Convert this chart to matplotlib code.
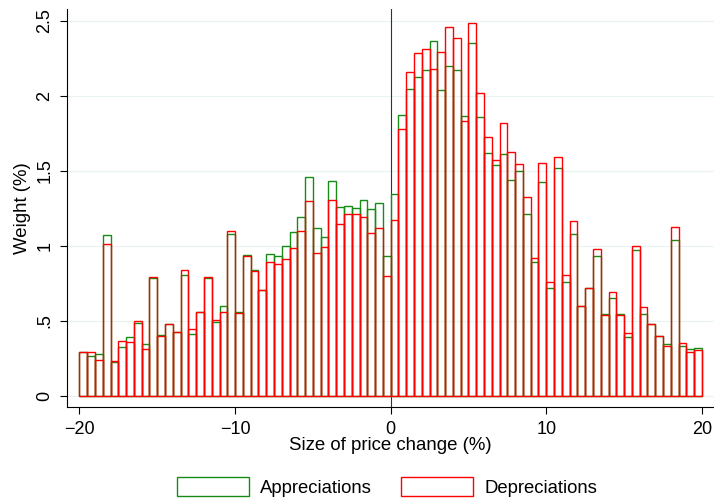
import numpy as np
import matplotlib
matplotlib.use("Agg")
import matplotlib.pyplot as plt
from matplotlib.patches import Patch

plt.rcParams['font.family'] = ['Liberation Sans', 'DejaVu Sans']

# histogram bins: 0.5 pp wide, from -20 to 20
bin_width = 0.5
bin_left = np.arange(-20, 20, bin_width)

# weight (%) per bin
appreciations = [
    0.29, 0.265, 0.276, 1.071, 0.227, 0.324, 0.391, 0.487, 0.347, 0.782,
    0.407, 0.476, 0.424, 0.807, 0.413, 0.558, 0.787, 0.491, 0.60, 1.08,
    0.558, 0.94, 0.836, 0.706, 0.947, 0.933, 0.998, 1.089, 1.191, 1.458,
    1.118, 1.056, 1.433, 1.256, 1.267, 1.249, 1.304, 1.248, 1.287, 0.932,
    1.342, 1.871, 2.044, 2.127, 2.173, 2.362, 2.038, 2.20, 2.173, 1.864,
    2.353, 1.856, 1.617, 1.537, 1.609, 1.435, 1.50, 1.209, 0.891, 1.426,
    0.718, 1.521, 0.755, 1.08, 0.60, 0.72, 0.933, 0.547, 0.653, 0.547,
    0.391, 0.969, 0.547, 0.48, 0.396, 0.342, 1.038, 0.329, 0.313, 0.32,
]
depreciations = [
    0.29, 0.29, 0.24, 1.013, 0.231, 0.367, 0.356, 0.496, 0.311, 0.793,
    0.398, 0.48, 0.424, 0.838, 0.447, 0.558, 0.793, 0.504, 0.56, 1.10,
    0.549, 0.933, 0.829, 0.702, 0.893, 0.876, 0.913, 0.987, 1.096, 1.296,
    0.953, 0.993, 1.302, 1.144, 1.213, 1.213, 1.193, 1.085, 1.117, 0.80,
    1.172, 1.778, 2.158, 2.284, 2.313, 2.18, 2.293, 2.458, 2.387, 1.833,
    2.482, 2.018, 1.727, 1.572, 1.82, 1.627, 1.544, 1.327, 0.92, 1.551,
    0.76, 1.593, 0.807, 1.166, 0.60, 0.72, 0.978, 0.538, 0.689, 0.536,
    0.418, 1.0, 0.591, 0.48, 0.396, 0.333, 1.127, 0.351, 0.293, 0.302,
]

xticks = [-20, -10, 0, 10, 20]
yticks = [0, 0.5, 1, 1.5, 2, 2.5]
ytick_labels = ['0', '.5', '1', '1.5', '2', '2.5']

green = '#168c16'
red = '#ff0000'
W, H = 714, 500

fig = plt.figure(figsize=(W / 100, H / 100), dpi=100)
ax = fig.add_axes([66.7 / W, (H - 407.3) / H, (714 - 66.7) / W, (407.3 - 9.3) / H])

ax.bar(bin_left, appreciations, width=bin_width, align='edge', fill=False,
       edgecolor=green, linewidth=1.0, zorder=3)
ax.bar(bin_left, depreciations, width=bin_width, align='edge', fill=False,
       edgecolor=red, linewidth=1.0, zorder=4)
ax.axvline(0, color='#333333', linewidth=0.8, zorder=2)

ax.set_xlim(-20.82, 20.78)
ax.set_ylim(-0.077, 2.576)

ax.set_xticks(xticks)
ax.set_yticks(yticks)
ax.set_yticklabels(ytick_labels, rotation=90, va='center')
ax.tick_params(axis='both', direction='out', length=5.2, width=0.8,
               labelsize=13, pad=4.5)

ax.yaxis.grid(True, color='#eaf2f3', linewidth=0.9, zorder=0)
ax.set_axisbelow(True)

for s in ['top', 'right']:
    ax.spines[s].set_visible(False)
for s in ['left', 'bottom']:
    ax.spines[s].set_linewidth(0.8)

ax.set_xlabel('Size of price change (%)', fontsize=13.4, va='center')
ax.xaxis.set_label_coords(0.4995, -0.097)
ax.set_ylabel('Weight (%)', fontsize=13.4, va='center')
ax.yaxis.set_label_coords(-0.069, 0.5)

handles = [Patch(facecolor='none', edgecolor=green, linewidth=1.0, label='Appreciations'),
           Patch(facecolor='none', edgecolor=red, linewidth=1.0, label='Depreciations')]
fig.legend(handles=handles, loc='center', bbox_to_anchor=(387 / W, (H - 487) / H),
           ncol=2, frameon=False, fontsize=13.3, handlelength=3.9, handleheight=1.2,
           handletextpad=0.6, columnspacing=1.6)

fig.savefig('out.png', dpi=100)
